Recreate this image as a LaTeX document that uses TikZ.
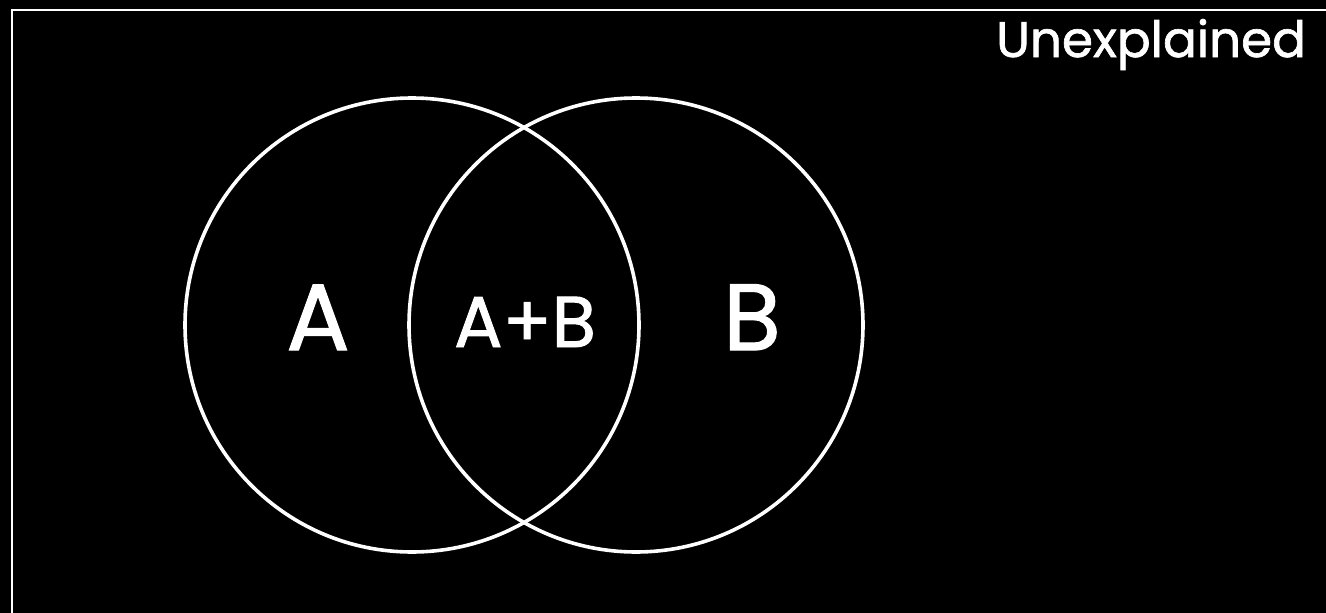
\documentclass[tikz,border=0pt]{standalone}
\usepackage{fontspec}
\setmainfont{Poppins}
\newfontfamily\comicish{Poppins}[FakeBold=1.3]
\begin{document}
\begin{tikzpicture}[x=1pt,y=-1pt,
  venn/.style={circle,draw=white,line width=3.6pt,minimum size=454pt,inner sep=0pt},
  lbl/.style={text=white,inner sep=0pt,anchor=base}]
\useasboundingbox (0,0) rectangle (1326,613);
\fill[black] (0,0) rectangle (1326,613);
\clip (0,0) rectangle (1326,613);
\draw[white,line width=2pt] (12,9.5) rectangle (1340,640);
\node[venn] (L) at (412,325) {};
\node[venn] (R) at (636,325) {};
\node[lbl,font=\comicish\fontsize{94}{100}\selectfont] (A) at (318,350) {A};
\node[lbl,font=\comicish\fontsize{72}{80}\selectfont] (AB) at (525,347) {A+B};
\node[lbl,font=\comicish\fontsize{94}{100}\selectfont] (B) at (752,350) {B};
\node[lbl,font=\comicish\fontsize{50}{60}\selectfont,anchor=base west] (U) at (996,57) {Unexplained};
\end{tikzpicture}
\end{document}
